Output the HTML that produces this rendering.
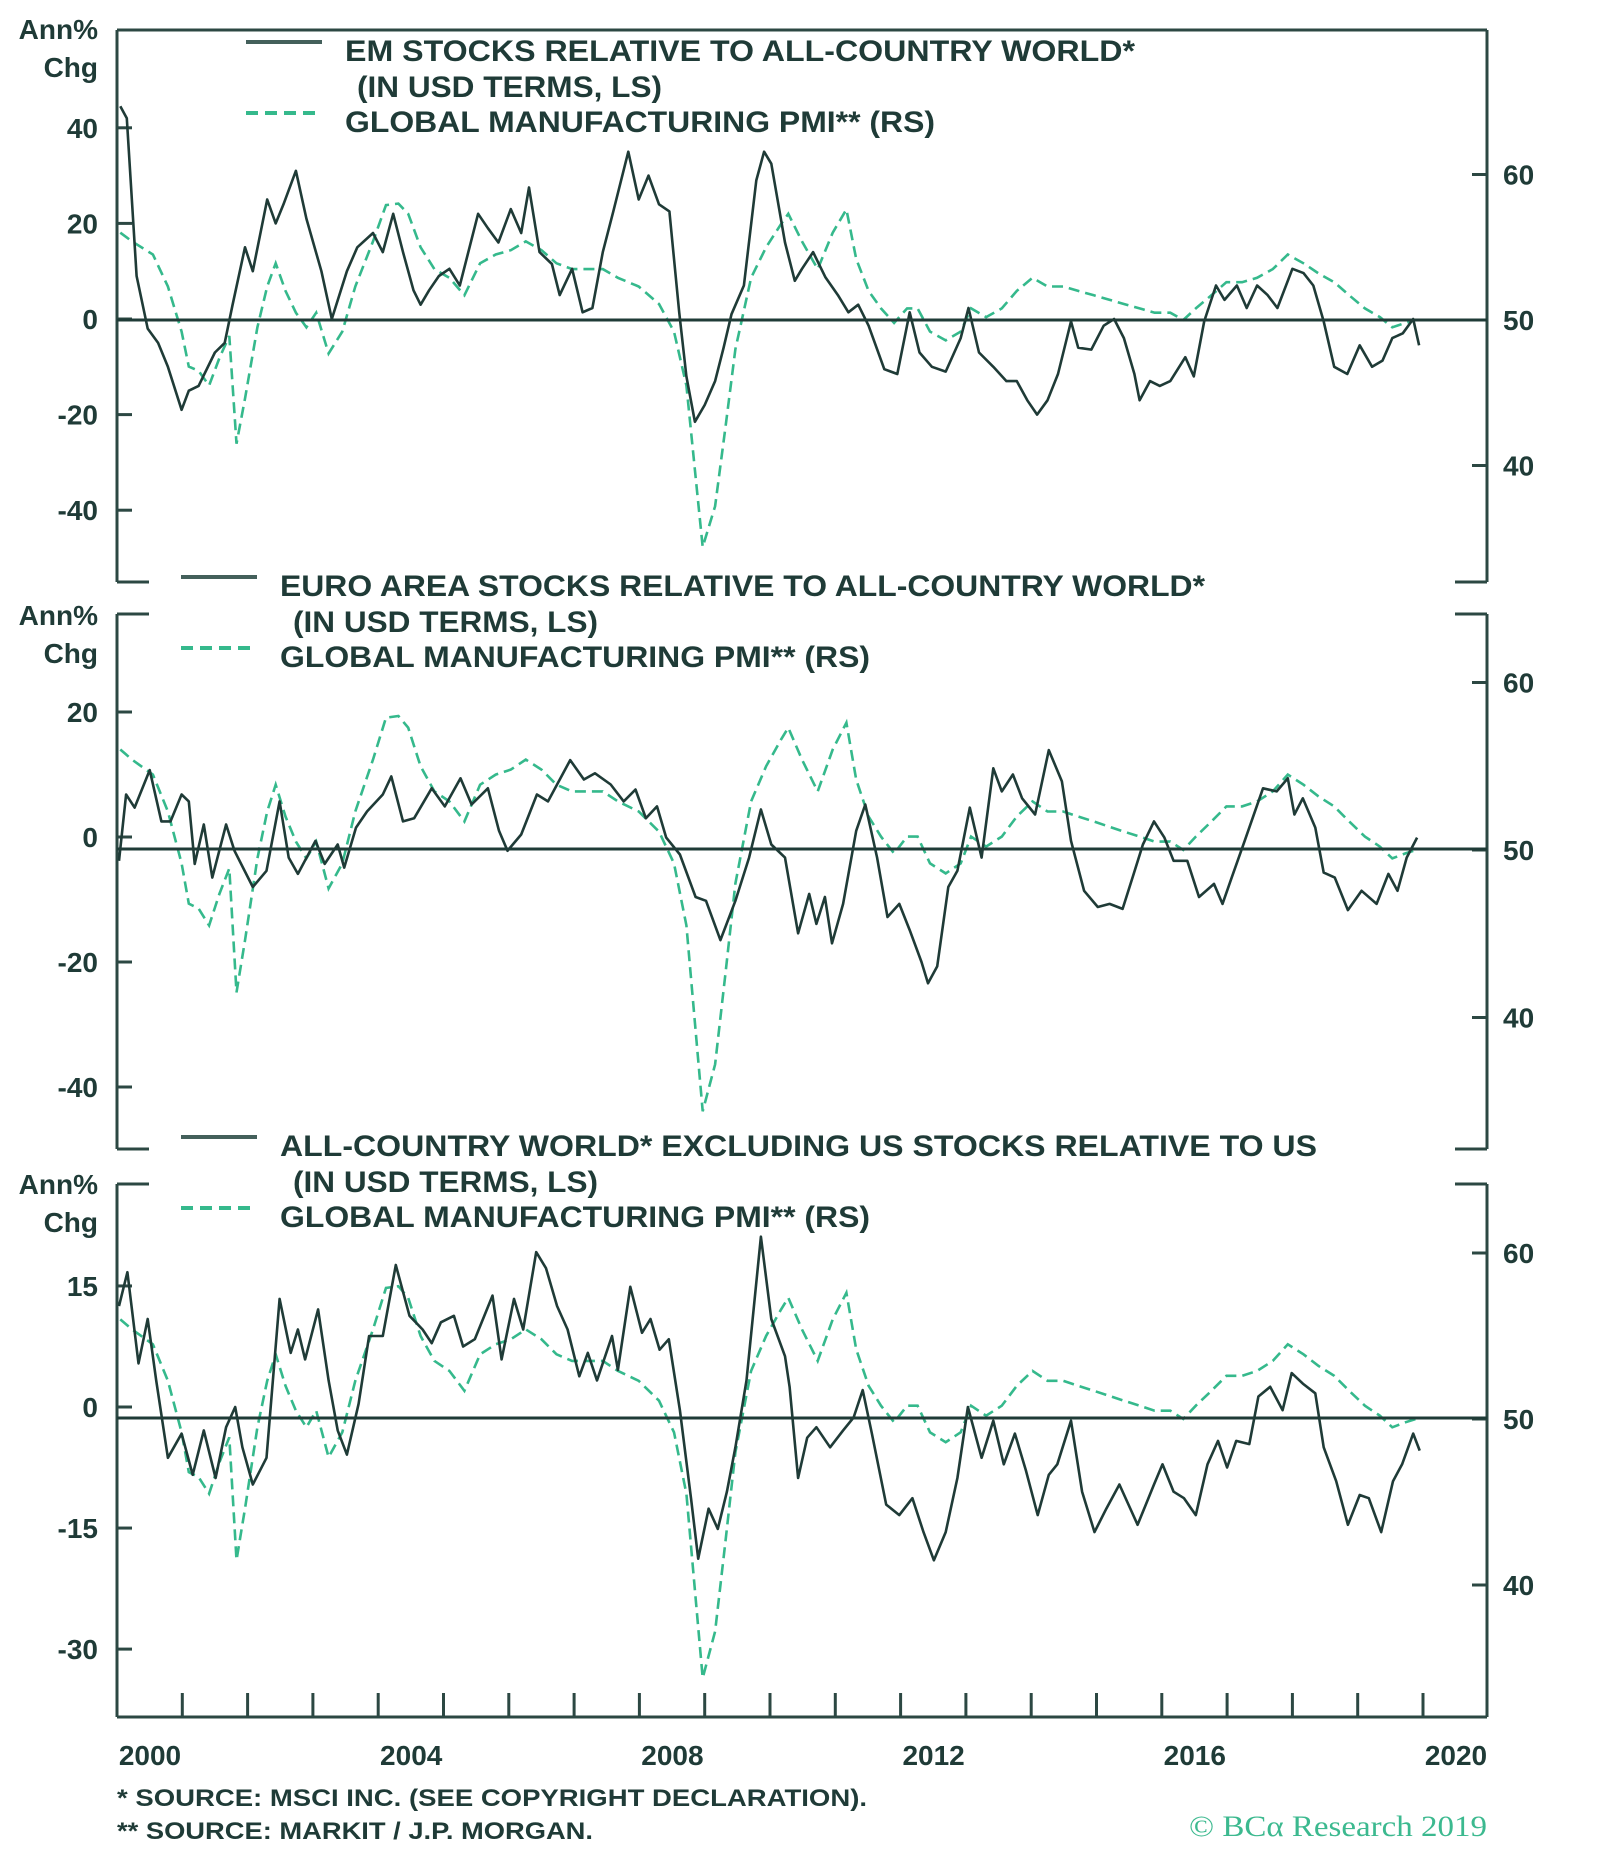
<!DOCTYPE html>
<html><head><meta charset="utf-8"><style>
html,body{margin:0;padding:0;background:#fff;}
svg{display:block;}
text{font-family:"Liberation Sans",sans-serif;fill:#1f3b37;}
</style></head><body>
<svg id="chart" width="1600" height="1866" viewBox="0 0 1600 1866" xmlns="http://www.w3.org/2000/svg"></svg>
<script>
const pmiYears=[2000.05,2000.23,2000.55,2000.78,2000.99,2001.1,2001.25,2001.41,2001.57,2001.72,2001.83,2001.96,2002.15,2002.3,2002.43,2002.58,2002.74,2002.9,2003.05,2003.24,2003.45,2003.65,2003.92,2004.12,2004.31,2004.46,2004.65,2004.86,2005.09,2005.32,2005.56,2005.8,2006.03,2006.26,2006.5,2006.73,2006.97,2007.2,2007.44,2007.67,2007.99,2008.3,2008.53,2008.72,2008.85,2008.97,2009.16,2009.32,2009.47,2009.71,2009.94,2010.17,2010.28,2010.49,2010.73,2010.96,2011.17,2011.32,2011.51,2011.7,2011.9,2012.1,2012.26,2012.45,2012.69,2012.92,2013.08,2013.31,2013.55,2013.78,2014.02,2014.25,2014.49,2014.72,2014.96,2015.19,2015.42,2015.66,2015.89,2016.13,2016.33,2016.52,2016.76,2016.99,2017.23,2017.46,2017.7,2017.93,2018.17,2018.4,2018.64,2018.87,2019.11,2019.34,2019.53,2019.73,2019.89];
const pmiValues=[56,55.4,54.5,52.3,49.2,46.8,46.5,45.5,47.4,48.9,41.5,44.6,49.5,52.3,53.9,52,50.5,49.5,50.5,47.7,49.2,52.3,55.4,57.9,58,57.3,55,53.5,52.9,51.7,53.9,54.5,54.8,55.4,54.8,53.9,53.5,53.5,53.5,52.9,52.3,51.1,49.2,45.5,39.7,34.4,37.2,42.7,48,52.9,55,56.6,57.3,55.4,53.5,56,57.6,54.2,52,50.8,49.8,50.8,50.8,49.2,48.6,49.2,50.8,50.2,50.8,52,52.9,52.3,52.3,52,51.7,51.4,51.1,50.8,50.5,50.5,50,50.8,51.7,52.6,52.6,52.9,53.5,54.5,53.9,53.2,52.6,51.7,50.8,50.2,49.5,49.8,50];

const emYears=[2000.05,2000.15,2000.3,2000.47,2000.63,2000.78,2000.99,2001.1,2001.25,2001.5,2001.65,2001.77,2001.96,2002.08,2002.3,2002.43,2002.55,2002.74,2002.9,2003.13,2003.29,2003.52,2003.68,2003.92,2004.07,2004.23,2004.38,2004.54,2004.65,2004.78,2004.93,2005.09,2005.25,2005.53,2005.68,2005.84,2006.03,2006.19,2006.31,2006.47,2006.66,2006.78,2006.97,2007.13,2007.28,2007.44,2007.6,2007.83,2007.99,2008.14,2008.3,2008.46,2008.61,2008.72,2008.85,2009.0,2009.16,2009.29,2009.41,2009.6,2009.79,2009.91,2010.02,2010.23,2010.38,2010.49,2010.66,2010.85,2011.04,2011.2,2011.35,2011.51,2011.75,2011.95,2012.14,2012.29,2012.48,2012.69,2012.92,2013.04,2013.2,2013.42,2013.62,2013.78,2013.94,2014.09,2014.25,2014.41,2014.61,2014.72,2014.92,2015.11,2015.27,2015.42,2015.58,2015.66,2015.82,2015.97,2016.13,2016.36,2016.49,2016.65,2016.83,2016.96,2017.15,2017.3,2017.46,2017.62,2017.77,2018.0,2018.17,2018.32,2018.48,2018.64,2018.84,2019.03,2019.22,2019.38,2019.53,2019.69,2019.85,2019.94];
const emValues=[44.5,42,9,-2,-5,-10,-19,-15,-14,-7,-5,3,15,10,25,20,24,31,21,10,0,10,15,18,14,22,14,6,3,6,9,10.5,7,22,19,16,23,18,27.5,14,11.5,5,10.5,1.4,2.3,14,22.5,35,25,30,24,22.5,1.4,-12,-21.5,-18,-13,-6,1,7,29,35,32.5,16,8,10.5,14,8.7,5,1.4,3,-1.4,-10.5,-11.5,1.4,-7,-10,-11,-4,2.3,-7,-10,-13,-13,-17,-20,-17,-11.5,-0.5,-6,-6.4,-1.4,0,-4,-11.5,-17,-13,-14,-13,-8,-12,-0.5,7,4,7,2.3,7,5,2.3,10.5,9.6,7,-0.5,-10,-11.5,-5.5,-10,-8.7,-4,-3,0,-5.5];

const euroYears=[2000.03,2000.14,2000.27,2000.5,2000.68,2000.82,2000.99,2001.1,2001.19,2001.33,2001.46,2001.67,2001.8,2002.08,2002.29,2002.49,2002.63,2002.77,2003.04,2003.18,2003.38,2003.48,2003.66,2003.83,2004.07,2004.2,2004.38,2004.55,2004.82,2005.02,2005.26,2005.43,2005.68,2005.85,2005.98,2006.19,2006.43,2006.6,2006.94,2007.15,2007.32,2007.56,2007.76,2007.94,2008.1,2008.27,2008.41,2008.62,2008.86,2009.02,2009.24,2009.47,2009.68,2009.86,2010.02,2010.23,2010.43,2010.6,2010.71,2010.84,2010.95,2011.12,2011.32,2011.46,2011.64,2011.8,2011.98,2012.14,2012.32,2012.42,2012.56,2012.73,2012.87,2013.06,2013.24,2013.42,2013.55,2013.72,2013.86,2014.06,2014.27,2014.47,2014.61,2014.81,2015.02,2015.2,2015.4,2015.57,2015.71,2015.88,2016.04,2016.18,2016.39,2016.57,2016.8,2016.93,2017.07,2017.27,2017.55,2017.76,2017.93,2018.03,2018.16,2018.35,2018.48,2018.65,2018.85,2019.06,2019.29,2019.47,2019.61,2019.75,2019.91];
const euroValues=[-3.8,6.8,4.7,10.7,2.5,2.5,6.8,5.7,-4.3,2,-6.5,2,-2.2,-8,-5.4,5.7,-3.3,-5.9,-0.6,-4.3,-1.2,-4.9,1.5,4.1,6.8,9.7,2.5,3,7.8,4.9,9.4,5.2,7.8,1,-2.2,0.4,6.8,5.7,12.3,9.2,10.2,8.4,5.7,7.6,3,4.9,-0.1,-2.8,-9.6,-10.2,-16.5,-10.2,-3.3,4.4,-1.2,-3.3,-15.4,-9.1,-13.9,-9.6,-17,-10.7,1,5.2,-3.3,-12.8,-10.7,-14.9,-20,-23.4,-20.7,-8,-5.4,4.7,-3.3,11,7.3,10,6.2,3.6,13.9,8.9,-0.6,-8.6,-11.2,-10.7,-11.5,-5.9,-1.2,2.5,-0.1,-3.8,-3.8,-9.6,-7.5,-10.7,-6.5,-0.6,7.8,7.3,9.4,3.6,6.2,1.5,-5.7,-6.5,-11.7,-8.6,-10.7,-5.9,-8.6,-3.3,-0.1];

const acwxYears=[2000.03,2000.16,2000.33,2000.47,2000.6,2000.78,2000.99,2001.16,2001.33,2001.51,2001.67,2001.81,2001.92,2002.08,2002.29,2002.49,2002.66,2002.77,2002.88,2003.08,2003.24,2003.38,2003.52,2003.7,2003.86,2004.07,2004.27,2004.48,2004.68,2004.82,2004.96,2005.16,2005.3,2005.48,2005.75,2005.89,2006.08,2006.22,2006.42,2006.57,2006.74,2006.9,2007.08,2007.21,2007.35,2007.58,2007.67,2007.86,2008.04,2008.17,2008.31,2008.45,2008.62,2008.79,2008.9,2009.06,2009.2,2009.34,2009.47,2009.64,2009.86,2010.02,2010.23,2010.3,2010.43,2010.57,2010.71,2010.92,2011.12,2011.28,2011.42,2011.56,2011.78,2011.98,2012.18,2012.35,2012.51,2012.69,2012.87,2013.03,2013.24,2013.42,2013.58,2013.75,2013.92,2014.1,2014.27,2014.4,2014.61,2014.78,2014.97,2015.15,2015.35,2015.49,2015.63,2015.88,2016.01,2016.18,2016.34,2016.52,2016.7,2016.86,2017.0,2017.14,2017.34,2017.48,2017.66,2017.85,2017.99,2018.16,2018.35,2018.48,2018.67,2018.85,2019.03,2019.17,2019.36,2019.54,2019.68,2019.85,2019.95];
const acwxValues=[12.5,16.7,5.4,10.9,3.3,-6.3,-3.3,-8.4,-2.9,-8.8,-2.5,0,-5,-9.6,-6.3,13.4,6.7,9.6,5.9,12.1,3.3,-2.9,-5.9,0.4,8.8,8.8,17.6,11.3,9.6,7.9,10.5,11.3,7.5,8.4,13.8,5.9,13.4,9.6,19.2,17.2,12.5,9.6,3.8,6.7,3.3,8.8,4.6,14.9,9.2,10.9,7.1,8.4,-0.4,-11.3,-18.8,-12.6,-15.1,-10.5,-5,3.3,21.1,10.9,6.3,2.5,-8.8,-3.8,-2.5,-5,-2.9,-1.3,2.1,-3.3,-12.1,-13.4,-11.3,-15.5,-19,-15.5,-8.8,0,-6.3,-1.7,-7.1,-3.3,-7.9,-13.4,-8.4,-7.1,-1.7,-10.5,-15.5,-12.6,-9.6,-12.1,-14.6,-9.6,-7.1,-10.5,-11.3,-13.4,-7.1,-4.2,-7.5,-4.2,-4.6,1.3,2.5,-0.4,4.2,2.9,1.7,-5,-9.2,-14.6,-10.9,-11.3,-15.5,-9.2,-7.1,-3.3,-5.4];

const p1LeftTicks=[40,20,0,-20,-40];
const p2LeftTicks=[20,0,-20,-40];
const p3LeftTicks=[15,0,-15,-30];
const rightTicks=[60,50,40];
const yearLabels=[2000,2004,2008,2012,2016,2020];

const NS='http://www.w3.org/2000/svg';
const svg=document.getElementById('chart');
const DARK='#1f3b37', GREEN='#35b98c', AX='#2c4843';
function mk(tag,attrs,parent){const e=document.createElementNS(NS,tag);for(const k in attrs)e.setAttribute(k,attrs[k]);(parent||svg).appendChild(e);return e;}
function txt(s,x,y,size,anchor,parent,extra){const t=mk('text',Object.assign({x:x,y:y,'font-size':size,'font-weight':'bold','text-anchor':anchor||'start'},extra||{}),parent);t.textContent=s;return t;}
const L=117,R=1487;
const xS=yr=>L+(yr-2000)*65.3;

const panels=[
 {name:'em',top:30,bot:582,fullTop:true,fullBot:false,zero:320,ls:v=>319-v*4.78,pmi:v=>320-(v-50)*14.55,lt:p1LeftTicks,ys:emYears,vs:emValues,
  leg:['EM STOCKS RELATIVE TO ALL-COUNTRY WORLD*','(IN USD TERMS, LS)','GLOBAL MANUFACTURING PMI** (RS)'],legX:345,leg2X:357,legW:[790,305,590],sx:246,sw:76,by:61,ann:29},
 {name:'euro',top:614,bot:1149,fullTop:false,fullBot:false,zero:849,ls:v=>837-v*6.25,pmi:v=>850-(v-50)*16.75,lt:p2LeftTicks,ys:euroYears,vs:euroValues,
  leg:['EURO AREA STOCKS RELATIVE TO ALL-COUNTRY WORLD*','(IN USD TERMS, LS)','GLOBAL MANUFACTURING PMI** (RS)'],legX:280,leg2X:293,legW:[925,305,590],sx:181,sw:76,by:596,ann:615},
 {name:'acwx',top:1184,bot:1717,fullTop:false,fullBot:true,zero:1418,ls:v=>1407-v*8.07,pmi:v=>1419-(v-50)*16.6,lt:p3LeftTicks,ys:acwxYears,vs:acwxValues,
  leg:['ALL-COUNTRY WORLD* EXCLUDING US STOCKS RELATIVE TO US','(IN USD TERMS, LS)','GLOBAL MANUFACTURING PMI** (RS)'],legX:280,leg2X:293,legW:[1037,305,590],sx:181,sw:76,by:1156,ann:1184}
];

panels.forEach(p=>{
  const g=mk('g',{});
  
  
  // frame
  const fr=mk('path',{d:
    (p.fullTop?`M${L},${p.top}H${R}`:`M${L+32},${p.top}H${L}M${R-32},${p.top}H${R}`)+
    `M${L},${p.top}V${p.bot}M${R},${p.top}V${p.bot}`+
    (p.fullBot?`M${L},${p.bot}H${R}`:`M${L},${p.bot}H${L+32}M${R-32},${p.bot}H${R}`),
    stroke:AX,'stroke-width':3,fill:'none'},g);
  
  
  // left ticks & labels
  p.lt.forEach(v=>{
    const y=p.ls(v);
    const t=mk('line',{x1:L,x2:L+15,y1:y,y2:y,stroke:AX,'stroke-width':3},g);
    
    
    const lb=txt(String(v),98,y+10,28,'end',g);
    
    
  });
  rightTicks.forEach(v=>{
    const y=p.pmi(v);
    const t=mk('line',{x1:R-15,x2:R,y1:y,y2:y,stroke:AX,'stroke-width':3},g);
    
    
    const lb=txt(String(v),1503,y+10,28,'start',g);
    
    
  });
  const a1=txt('Ann%',98,p.ann+10,28,'end',g);
  
  
  const a2=txt('Chg',98,p.ann+48,28,'end',g);
  
  
  // pmi dashed
  const pd=pmiYears.map((yr,i)=>(i?'L':'M')+xS(yr).toFixed(1)+','+p.pmi(pmiValues[i]).toFixed(1)).join('');
  const pl=mk('path',{d:pd,stroke:GREEN,'stroke-width':2.6,fill:'none','stroke-dasharray':'11 6'},g);
  
  
  // zero line
  const z=mk('line',{x1:L,x2:R,y1:p.zero,y2:p.zero,stroke:DARK,'stroke-width':3},g);
  
  
  // stock line
  const sd=p.ys.map((yr,i)=>(i?'L':'M')+xS(yr).toFixed(1)+','+p.ls(p.vs[i]).toFixed(1)).join('');
  const sl=mk('path',{d:sd,stroke:DARK,'stroke-width':2.6,fill:'none','stroke-linejoin':'round'},g);
  
  
  // legend
  const ls1=mk('line',{x1:p.sx,x2:p.sx+p.sw,y1:p.by-19,y2:p.by-19,stroke:'#44605b','stroke-width':4},g);
  
  
  const ls2=mk('line',{x1:p.sx,x2:p.sx+p.sw,y1:p.by+52,y2:p.by+52,stroke:GREEN,'stroke-width':4,'stroke-dasharray':'12 7'},g);
  
  
  const t1=txt(p.leg[0],p.legX,p.by,30,'start',g,{textLength:p.legW[0],lengthAdjust:'spacingAndGlyphs'});
  
  
  const t2=txt(p.leg[1],p.leg2X,p.by+36,30,'start',g,{textLength:p.legW[1],lengthAdjust:'spacingAndGlyphs'});
  
  
  const t3=txt(p.leg[2],p.legX,p.by+71,30,'start',g,{textLength:p.legW[2],lengthAdjust:'spacingAndGlyphs'});
  
  
});

// x ticks
for(let yr=2001;yr<=2020;yr++){
  const x=xS(yr);
  const t=mk('line',{x1:x,x2:x,y1:1693,y2:1717,stroke:AX,'stroke-width':3});
  
  
}
yearLabels.forEach(yr=>{
  const t=txt(String(yr),xS(yr)+33,1765,28,'middle');
  
  
});
const f1=txt('*  SOURCE: MSCI INC. (SEE COPYRIGHT DECLARATION).',117,1806,24,'start',null,{textLength:750,lengthAdjust:'spacingAndGlyphs'});


const f2=txt('**  SOURCE: MARKIT / J.P. MORGAN.',117,1839,24,'start',null,{textLength:476,lengthAdjust:'spacingAndGlyphs'});


const cp=txt('© BCα Research 2019',1487,1836,30,'end',null,{textLength:298,lengthAdjust:'spacingAndGlyphs','font-weight':'normal'});
cp.setAttribute('font-family','"Liberation Serif",serif');
cp.setAttribute('style','fill:#3cb98f;font-family:"Liberation Serif",serif');


</script>
</body></html>
